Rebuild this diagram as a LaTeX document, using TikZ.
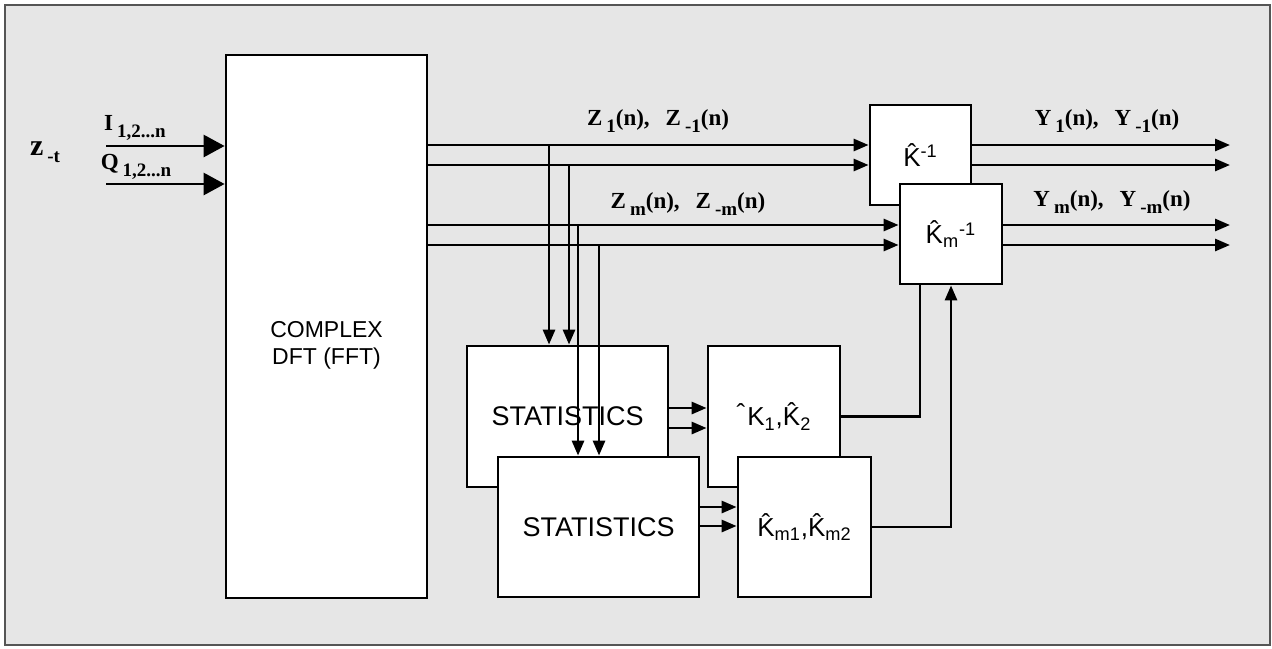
\documentclass[tikz,border=0pt]{standalone}
\usepackage{fontspec}
\setmainfont{Liberation Sans}
\newfontfamily\labelfont{Liberation Serif}
\usetikzlibrary{arrows.meta}
\definecolor{DiagPaper}{HTML}{E6E6E6}
\definecolor{DiagFrame}{HTML}{555555}
\newcommand{\lsub}[1]{\kern2pt\raisebox{-3.5pt}{\fontsize{9.5}{9.5}\selectfont#1}}

\begin{document}
\begin{tikzpicture}[x=0.5pt, y=-0.5pt,
    flow/.style={-{Triangle[length=7.5pt,width=6pt]}, line width=1.4pt},
    inflow/.style={-{Triangle[length=10.5pt,width=11pt]}, line width=1.4pt},
    wire/.style={line width=1.4pt},
    block/.style={draw, fill=white, line width=1.4pt, inner sep=0pt, align=center},
    stats/.style={block, minimum width=100.5pt, minimum height=70.5pt, font=\fontsize{13.5}{15}\selectfont},
    gain/.style={block, minimum width=66pt, minimum height=70.5pt, font=\fontsize{13}{15}\selectfont},
    inv/.style={block, minimum width=50.5pt, minimum height=50pt, font=\fontsize{13}{15}\selectfont},
    sig/.style={font=\labelfont\bfseries\fontsize{11.5}{13}\selectfont, inner sep=0pt}
  ]
    \useasboundingbox (0,0) rectangle (1272,648);
    \draw[draw=DiagFrame, fill=DiagPaper, line width=1pt] (5,5) rectangle (1270,645);

    \node[block, minimum width=100.5pt, minimum height=271.5pt] (dft) at (326.5,326.5) {};
    \node[font=\fontsize{11.5}{13.5}\selectfont, align=center] (dftText) at (dft.center |- 0,345) {COMPLEX\\DFT (FFT)};
    \node[stats] (stA) at (567.5,416.5) {STATISTICS};
    \node[stats, minimum height=70pt] (stB) at (598.5,527) {STATISTICS};
    \node[gain] (kA) at (774,416.5) {\raisebox{1.5pt}{\symbol{"02C6}}\kern1pt K\textsubscript{1},\^{K}\textsubscript{2}};
    \node[gain, minimum width=66.5pt, minimum height=70pt] (kB) at (804.5,527) {\^{K}\textsubscript{m1},\^{K}\textsubscript{m2}};
    \node[inv] (invA) at (920.5,155) {\^{K}\textsuperscript{-1}};
    \node[inv, minimum width=51pt] (invB) at (951,234) {\^{K}\textsubscript{m}\textsuperscript{-1}};

    \coordinate (zA) at (0,145);
    \coordinate (zB) at (0,165);
    \coordinate (zC) at (0,225);
    \coordinate (zD) at (0,245);
    \coordinate (inI) at (106,146);
    \coordinate (inQ) at (106,184);
    \coordinate (out) at (1230,0);
    \coordinate (tapA) at (549,145);
    \coordinate (tapB) at (569,165);
    \coordinate (tapC) at (578,225);
    \coordinate (tapD) at (599,245);

    \draw[inflow] (inI) -- (inI -| dft.west);
    \draw[inflow] (inQ) -- (inQ -| dft.west);
    \foreach \lv in {zA,zB} {
      \draw[flow] (dft.east |- \lv) -- (invA.west |- \lv);
      \draw[flow] (invA.east |- \lv) -- (out |- \lv);
    }
    \foreach \lv in {zC,zD} {
      \draw[flow] (dft.east |- \lv) -- (invB.west |- \lv);
      \draw[flow] (invB.east |- \lv) -- (out |- \lv);
    }
    \draw[flow] (tapA) -- (tapA |- stA.north);
    \draw[flow] (tapB) -- (tapB |- stA.north);
    \draw[flow] (tapC) -- (tapC |- stB.north);
    \draw[flow] (tapD) -- (tapD |- stB.north);
    \foreach \yy in {408,428}
      \draw[flow] (stA.east |- 0,\yy) -- (kA.west |- 0,\yy);
    \foreach \yy in {507,526}
      \draw[flow] (stB.east |- 0,\yy) -- (kB.west |- 0,\yy);
    \draw[wire] (kA.east) -| ([xshift=-15.5pt]invB.south);
    \draw[flow] (kB.east) -| (invB.south);

    \node[sig] (lblZt) at (45,152) {{\fontsize{15}{15}\selectfont z}\lsub{-t}};
    \node[sig] (lblI) at (135,128) {I\lsub{1,2...n}};
    \node[sig] (lblQ) at (136,167) {Q\lsub{1,2...n}};
    \node[sig] (lblZa) at (658,121) {Z\lsub{1}(n),\hspace{8pt}Z\lsub{-1}(n)};
    \node[sig] (lblZc) at (688,204) {Z\lsub{m}(n),\hspace{8pt}Z\lsub{-m}(n)};
    \node[sig] (lblYa) at (1107,121) {Y\lsub{1}(n),\hspace{8pt}Y\lsub{-1}(n)};
    \node[sig] (lblYc) at (1112,202) {Y\lsub{m}(n),\hspace{8pt}Y\lsub{-m}(n)};
  \end{tikzpicture}
\end{document}
